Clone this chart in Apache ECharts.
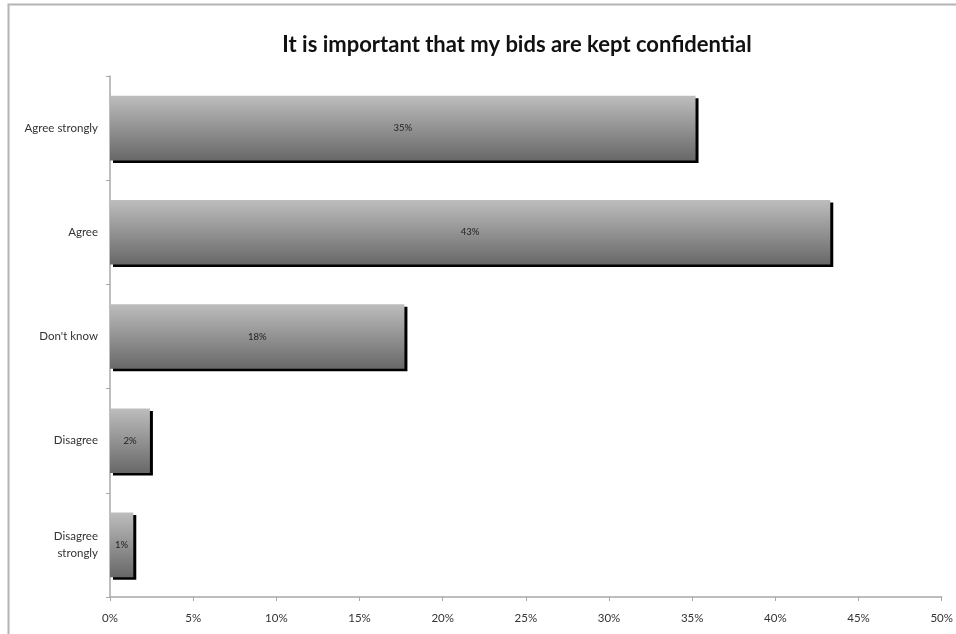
<!DOCTYPE html>
<html>
<head>
<meta charset="utf-8">
<script src="https://cdn.jsdelivr.net/npm/echarts@6/dist/echarts.min.js"></script>
<style>html,body{margin:0;padding:0;background:#fff;}#c{width:956px;height:634px;}</style>
</head>
<body>
<div id="c"></div>
<script>
const categories = ['Agree strongly', 'Agree', "Don't know", 'Disagree', 'Disagree strongly'];
const values = [35.2, 43.3, 17.7, 2.4, 1.4];
const xTicks = [0, 5, 10, 15, 20, 25, 30, 35, 40, 45, 50];
const titleText = 'It is important that my bids are kept confidential';

const chart = echarts.init(document.getElementById('c'), null, {renderer: 'canvas'});
chart.setOption({
  backgroundColor: '#fff',
  animation: false,
  title: {
    text: titleText,
    left: 512, top: 29, textAlign: 'center',
    textStyle: {fontFamily: 'Lato', fontWeight: 'bold', fontSize: 22, color: '#111'}
  },
  graphic: [{
    type: 'polyline',
    shape: {points: [[8.5, 640], [8.5, 4.5], [960, 4.5]]},
    style: {stroke: '#b4b4b4', lineWidth: 2, fill: null},
    silent: true
  }],
  grid: {left: 110, right: 14, top: 76, bottom: 37},
  xAxis: {
    type: 'value', min: xTicks[0], max: xTicks[xTicks.length - 1], interval: 5,
    axisLine: {show: true, lineStyle: {color: '#a8a8a8', width: 1.5}},
    axisTick: {show: true, length: 4, inside: false, lineStyle: {color: '#a8a8a8'}},
    splitLine: {show: false},
    axisLabel: {formatter: v => v + '%', fontFamily: 'Lato', fontSize: 11.5, color: '#333', margin: 15}
  },
  yAxis: {
    type: 'category', data: categories, inverse: true,
    axisLine: {show: true, lineStyle: {color: '#a8a8a8', width: 1.5}},
    axisTick: {show: true, length: 4, lineStyle: {color: '#a8a8a8'}},
    axisLabel: {
      fontFamily: 'Lato', fontSize: 11.5, color: '#333', margin: 12, lineHeight: 17,
      formatter: v => v === 'Disagree strongly' ? 'Disagree\nstrongly' : v
    }
  },
  series: [{
    type: 'bar', data: values, barCategoryGap: '38%',
    itemStyle: {
      color: new echarts.graphic.LinearGradient(0, 0, 0, 1, [
        {offset: 0, color: '#bdbdbd'},
        {offset: 1, color: '#686868'}
      ]),
      shadowColor: '#000', shadowOffsetX: 3, shadowOffsetY: 2.5, shadowBlur: 0
    },
    label: {
      show: true, position: 'inside', formatter: p => Math.round(p.value) + '%',
      fontFamily: 'Lato', fontSize: 9.5, color: '#222'
    }
  }]
});
</script>
</body>
</html>
